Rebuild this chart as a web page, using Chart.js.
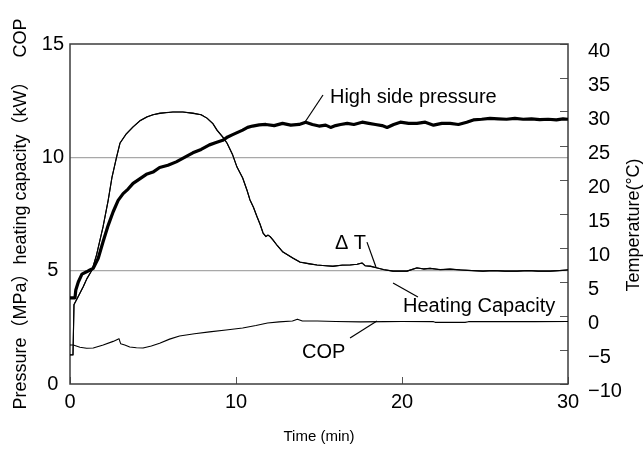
<!DOCTYPE html>
<html><head><meta charset="utf-8">
<script src="https://cdn.jsdelivr.net/npm/chart.js@4/dist/chart.umd.min.js"></script>
<style>html,body{margin:0;padding:0;background:#fff;}</style>
</head><body>
<canvas id="c" width="644" height="450"></canvas>
<script>
// ---- data ----
const xTicks = [0, 10, 20, 30];            // Time (min)
const leftTicks = [0, 5, 10, 15];          // MPa / kW / COP
const rightTicks = [-10, -5, 0, 5, 10, 15, 20, 25, 30, 35, 40]; // °C

const pressureTime = [0, 0.3, 0.35, 0.5, 0.72, 1.0, 1.2, 1.4, 1.7, 2.0, 2.3, 2.6, 2.9, 3.2, 3.5, 3.8, 4.2, 4.6, 5.0, 5.4, 5.9, 6.4, 6.9, 7.4, 7.9, 8.4, 8.8, 9.2, 9.5, 9.8, 10.1, 10.4, 10.7, 11.0, 11.4, 11.8, 12.3, 12.8, 13.3, 13.8, 14.2, 14.6, 15.0, 15.4, 15.7, 16.0, 16.3, 16.7, 17.1, 17.6, 18.0, 18.4, 18.8, 19.1, 19.5, 19.9, 20.4, 20.9, 21.4, 21.9, 22.4, 22.9, 23.4, 23.9, 24.3, 24.8, 25.3, 25.8, 26.3, 26.8, 27.3, 27.8, 28.3, 28.8, 29.3, 29.7, 30];
const pressureMPa = [3.8, 3.8, 4.15, 4.5, 4.85, 4.95, 5.03, 5.1, 5.55, 6.3, 7.0, 7.6, 8.1, 8.4, 8.6, 8.85, 9.05, 9.25, 9.35, 9.55, 9.65, 9.8, 10.0, 10.2, 10.35, 10.55, 10.65, 10.75, 10.9, 11.0, 11.1, 11.2, 11.32, 11.38, 11.43, 11.45, 11.4, 11.5, 11.42, 11.45, 11.55, 11.45, 11.38, 11.42, 11.32, 11.4, 11.45, 11.5, 11.45, 11.55, 11.5, 11.45, 11.4, 11.32, 11.45, 11.55, 11.5, 11.5, 11.55, 11.42, 11.5, 11.5, 11.45, 11.55, 11.65, 11.68, 11.72, 11.7, 11.68, 11.72, 11.68, 11.7, 11.66, 11.68, 11.65, 11.7, 11.68];

const capTime = [0, 0.18, 0.24, 0.48, 0.8, 1.02, 1.33, 1.6, 1.99, 2.3, 2.53, 2.8, 3.01, 3.4, 3.8, 4.2, 4.64, 5.0, 5.42, 5.8, 6.2, 6.8, 7.41, 7.9, 8.25, 8.6, 8.86, 9.2, 9.46, 9.8, 10.06, 10.4, 10.66, 10.84, 11.05, 11.27, 11.45, 11.63, 11.8, 11.93, 12.05, 12.23, 12.5, 12.83, 13.1, 13.43, 13.86, 14.4, 14.88, 15.4, 15.84, 16.4, 16.87, 17.3, 17.59, 17.77, 18.1, 18.49, 18.9, 19.46, 19.9, 20.3, 20.9, 21.3, 21.69, 22.3, 22.89, 23.5, 24.2, 24.88, 25.5, 26.2, 26.93, 27.6, 28.2, 28.92, 29.5, 30];
const capKW = [1.28, 1.28, 3.5, 3.84, 4.3, 4.65, 5.03, 5.7, 6.93, 8.1, 9.13, 10.0, 10.63, 11.05, 11.34, 11.6, 11.78, 11.88, 11.95, 11.98, 12.0, 12.0, 11.95, 11.88, 11.73, 11.5, 11.2, 10.9, 10.63, 10.1, 9.57, 9.1, 8.56, 8.12, 7.8, 7.37, 7.05, 6.66, 6.5, 6.57, 6.5, 6.35, 6.1, 5.82, 5.7, 5.56, 5.38, 5.3, 5.25, 5.22, 5.2, 5.24, 5.25, 5.28, 5.34, 5.22, 5.2, 5.12, 5.05, 4.98, 4.98, 4.98, 5.12, 5.08, 5.1, 5.05, 5.07, 5.03, 5.0, 4.98, 5.0, 4.98, 4.98, 5.0, 4.98, 4.98, 5.0, 5.03];

const dtTime = capTime;
const dtC = [-5.7, -5.7, 1.7, 2.8, 4.3, 5.5, 6.8, 9.0, 13.1, 17.0, 20.4, 23.3, 25.4, 26.8, 27.8, 28.7, 29.3, 29.6, 29.8, 29.9, 30.0, 30.0, 29.8, 29.6, 29.1, 28.3, 27.3, 26.3, 25.4, 23.7, 21.9, 20.3, 18.5, 17.1, 16.0, 14.6, 13.5, 12.2, 11.7, 11.9, 11.7, 11.2, 10.3, 9.4, 9.0, 8.5, 7.9, 7.7, 7.5, 7.4, 7.3, 7.5, 7.5, 7.6, 7.8, 7.4, 7.3, 7.1, 6.8, 6.6, 6.6, 6.6, 7.1, 6.9, 7.0, 6.8, 6.9, 6.8, 6.7, 6.6, 6.7, 6.6, 6.6, 6.7, 6.6, 6.6, 6.7, 6.8];

const copTime = [0, 0.2, 0.6, 1.0, 1.4, 2.0, 2.6, 2.95, 3.05, 3.3, 3.6, 4.0, 4.4, 4.9, 5.4, 6.0, 6.6, 7.5, 8.4, 9.4, 10.4, 11.2, 11.9, 12.6, 13.4, 13.7, 14.0, 14.9, 16.0, 17.5, 19.0, 20.0, 21.9, 22.0, 23.8, 24.0, 26, 28, 30];
const copVal = [1.72, 1.72, 1.62, 1.58, 1.59, 1.72, 1.88, 2.0, 1.78, 1.72, 1.63, 1.6, 1.59, 1.68, 1.8, 1.98, 2.12, 2.22, 2.3, 2.38, 2.47, 2.58, 2.69, 2.74, 2.78, 2.86, 2.78, 2.78, 2.76, 2.74, 2.75, 2.76, 2.75, 2.72, 2.72, 2.75, 2.75, 2.75, 2.76];

// annotation labels (data coordinates: minutes, left-axis units)
const noteText = ['High side pressure', 'Δ T', 'Heating Capacity', 'COP'];
const noteAt = [[15.66, 12.66], [15.96, 6.18], [20.06, 3.40], [13.98, 1.41]];
const leaderFrom = [[14.16, 11.56], [18.43, 5.16], [19.46, 4.46], [18.49, 2.78]];
const leaderTo = [[15.24, 12.75], [17.89, 6.26], [20.96, 3.84], [16.87, 2.03]];

const FONT = "'Liberation Sans', 'Noto Sans CJK JP', Arial, sans-serif";
Chart.defaults.font.family = FONT;
Chart.defaults.color = '#000';

const pts = (xs, ys) => xs.map((x, i) => ({x: x, y: ys[i]}));

const framePlugin = {
  id: 'frame',
  beforeDatasetsDraw(chart) {
    const a = chart.chartArea, c = chart.ctx;
    c.save();
    c.strokeStyle = '#3c3c3c';
    c.lineWidth = 1.5;
    c.strokeRect(a.left, a.top, a.right - a.left, a.bottom - a.top);
    c.restore();
  }
};

const notesPlugin = {
  id: 'notes',
  afterDatasetsDraw(chart) {
    const c = chart.ctx, x = chart.scales.x, y = chart.scales.y;
    c.save();
    c.strokeStyle = '#000';
    c.lineWidth = 1.2;
    for (let i = 0; i < noteText.length; i++) {
      c.beginPath();
      c.moveTo(x.getPixelForValue(leaderFrom[i][0]), y.getPixelForValue(leaderFrom[i][1]));
      c.lineTo(x.getPixelForValue(leaderTo[i][0]), y.getPixelForValue(leaderTo[i][1]));
      c.stroke();
    }
    c.fillStyle = '#000';
    c.font = '20px ' + FONT;
    c.textAlign = 'left';
    c.textBaseline = 'middle';
    for (let i = 0; i < noteText.length; i++) {
      c.fillText(noteText[i], x.getPixelForValue(noteAt[i][0]), y.getPixelForValue(noteAt[i][1]));
    }
    // right axis title, reading bottom to top
    const r = chart.scales.y2;
    c.translate(634, (r.top + r.bottom) / 2 + 11);
    c.rotate(-Math.PI / 2);
    c.textAlign = 'center';
    c.font = '18px ' + FONT;
    c.fillText('Temperature(°C)', 0, 0);
    c.restore();
  }
};

new Chart(document.getElementById('c'), {
  type: 'line',
  data: {
    datasets: [
      {label: 'High side pressure', data: pts(pressureTime, pressureMPa), yAxisID: 'y', borderColor: '#000', borderWidth: 3.2},
      {label: 'Heating Capacity', data: pts(capTime, capKW), yAxisID: 'y', borderColor: '#000', borderWidth: 1.1},
      {label: 'ΔT', data: pts(dtTime, dtC), yAxisID: 'y2', borderColor: '#000', borderWidth: 1.1},
      {label: 'COP', data: pts(copTime, copVal), yAxisID: 'y', borderColor: '#000', borderWidth: 1.1}
    ]
  },
  options: {
    responsive: false,
    animation: false,
    layout: {padding: {top: 44, left: 0, right: 0, bottom: 0}},
    elements: {point: {radius: 0}, line: {tension: 0, borderJoinStyle: 'round', fill: false}},
    plugins: {legend: {display: false}, tooltip: {enabled: false}},
    scales: {
      x: {
        type: 'linear', min: 0, max: 30,
        afterBuildTicks: s => { s.ticks = xTicks.map(v => ({value: v})); },
        afterFit: s => { s.height = 66; },
        ticks: {font: {size: 20}, padding: 13, maxRotation: 0},
        grid: {drawOnChartArea: false, drawTicks: true, tickLength: -7, color: '#555', lineWidth: 1},
        border: {display: false},
        title: {display: true, text: 'Time (min)', font: {size: 15}, padding: {top: 0, bottom: 4}}
      },
      y: {
        position: 'left', min: 0, max: 15,
        afterBuildTicks: s => { s.ticks = leftTicks.map(v => ({value: v})); },
        afterFit: s => { s.width = 70; },
        ticks: {font: {size: 20}, padding: 6, crossAlign: 'center'},
        grid: {drawTicks: false, color: c => (c.tick && (c.tick.value === 5 || c.tick.value === 10)) ? '#a8a8a8' : 'rgba(0,0,0,0)', lineWidth: 1.3},
        border: {display: false},
        title: {display: true, text: 'Pressure\uFF08MPa\uFF09heating capacity\uFF08kW\uFF09   COP', font: {size: 18}, padding: {top: 10, bottom: 0}}
      },
      y2: {
        position: 'right', min: -10, max: 40,
        afterBuildTicks: s => { s.ticks = rightTicks.map(v => ({value: v})); },
        afterFit: s => { s.width = 76; },
        ticks: {font: {size: 20}, padding: 28, labelOffset: 7, callback: v => (v < 0 ? '\u2212' + Math.abs(v) : String(v))},
        grid: {drawOnChartArea: false, drawTicks: true, tickLength: -8, color: '#555', lineWidth: 1},
        border: {display: false}
      }
    }
  },
  plugins: [framePlugin, notesPlugin]
});
</script>
</body></html>
